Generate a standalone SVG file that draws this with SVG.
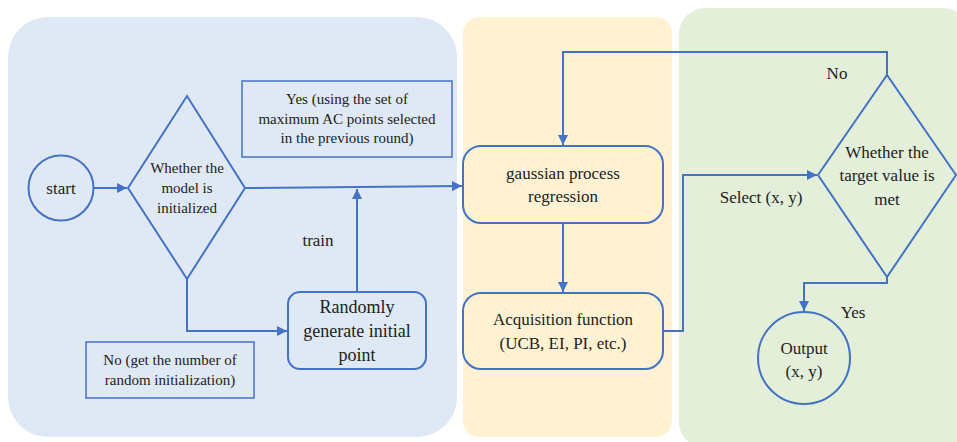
<svg xmlns="http://www.w3.org/2000/svg" width="957" height="442" viewBox="0 0 957 442" font-family="Liberation Serif, serif">
<defs>
<marker id="ah" viewBox="0 0 10 10" refX="10" refY="5" markerWidth="10" markerHeight="10" markerUnits="userSpaceOnUse" orient="auto">
<path d="M0,0 L10,5 L0,10 z" fill="#4472c4"/>
</marker>
</defs>
<style>
.ln{fill:none;stroke:#4472c4;stroke-width:2}
.nd{fill:none;stroke:#4472c4;stroke-width:2}
.bx{fill:none;stroke:#4472c4;stroke-width:1.5}
.t{fill:#222;text-anchor:middle;font-family:'Liberation Serif',serif}
.s15{font-size:15px}
.s17{font-size:17px}
.s18{font-size:18px}
</style>
<g id="panels">
<rect x="8" y="17" width="449" height="420" rx="40" fill="#dfe8f5"/>
<rect x="463" y="17" width="209" height="420" rx="16" fill="#fff2d2"/>
<rect x="679" y="8" width="290" height="440" rx="26" fill="#e3efd9"/>
</g>
<g id="connectors">
<path class="ln" d="M94,188 H127" marker-end="url(#ah)"/>
<path class="ln" d="M245,188 L462,186" marker-end="url(#ah)"/>
<path class="ln" d="M357,292 V189" marker-end="url(#ah)"/>
<path class="ln" d="M187,279 V331 H287" marker-end="url(#ah)"/>
<path class="ln" d="M563,223 V292" marker-end="url(#ah)"/>
<path class="ln" d="M887,75 V52 H563 V145" marker-end="url(#ah)"/>
<path class="ln" d="M663,331 H683 V175 H817" marker-end="url(#ah)"/>
<path class="ln" d="M887,277 V283 H804 V311" marker-end="url(#ah)"/>
</g>
<g id="start">
<circle class="nd" cx="61" cy="188" r="32.5"/>
<text class="t s17" x="61" y="194">start</text>
</g>
<g id="decision1">
<path class="nd" d="M128,188 L187,96 L245,188 L187,279 z"/>
<text class="t s15" x="187" y="173">Whether the</text>
<text class="t s15" x="187" y="193">model is</text>
<text class="t s15" x="187" y="213">initialized</text>
</g>
<g id="yes-note">
<rect class="bx" x="242" y="81" width="210" height="76"/>
<text class="t s15" x="347" y="104">Yes (using the set of</text>
<text class="t s15" x="347" y="124">maximum AC points selected</text>
<text class="t s15" x="347" y="143">in the previous round)</text>
</g>
<g id="train-label">
<text class="t s17" x="318" y="246">train</text>
</g>
<g id="random">
<rect class="nd" x="288" y="292" width="138" height="77" rx="12"/>
<text class="t s18" x="357" y="313">Randomly</text>
<text class="t s18" x="357" y="337">generate initial</text>
<text class="t s18" x="357" y="361">point</text>
</g>
<g id="no-note">
<rect class="bx" x="86" y="342" width="168" height="56"/>
<text class="t s15" x="170" y="365">No (get the number of</text>
<text class="t s15" x="170" y="385">random initialization)</text>
</g>
<g id="gpr">
<rect class="nd" x="463" y="146" width="200" height="77" rx="18"/>
<text class="t s17" x="563" y="179">gaussian process</text>
<text class="t s17" x="563" y="202">regression</text>
</g>
<g id="acq">
<rect class="nd" x="463" y="293" width="200" height="76" rx="18"/>
<text class="t s17" x="563" y="325">Acquisition function</text>
<text class="t s17" x="563" y="349">(UCB, EI, PI, etc.)</text>
</g>
<g id="select-label">
<text class="t s17" x="761" y="203">Select (x, y)</text>
</g>
<g id="decision2">
<path class="nd" d="M818,175 L887,75 L956,175 L887,277 z"/>
<text class="t s17" x="887" y="158">Whether the</text>
<text class="t s17" x="887" y="181">target value is</text>
<text class="t s17" x="887" y="205">met</text>
</g>
<g id="no-label">
<text class="t s17" x="837" y="79">No</text>
</g>
<g id="yes-label">
<text class="t s17" x="853" y="318">Yes</text>
</g>
<g id="output">
<circle class="nd" cx="804" cy="358" r="46"/>
<text class="t s17" x="804" y="354">Output</text>
<text class="t s17" x="804" y="377">(x, y)</text>
</g>
</svg>
